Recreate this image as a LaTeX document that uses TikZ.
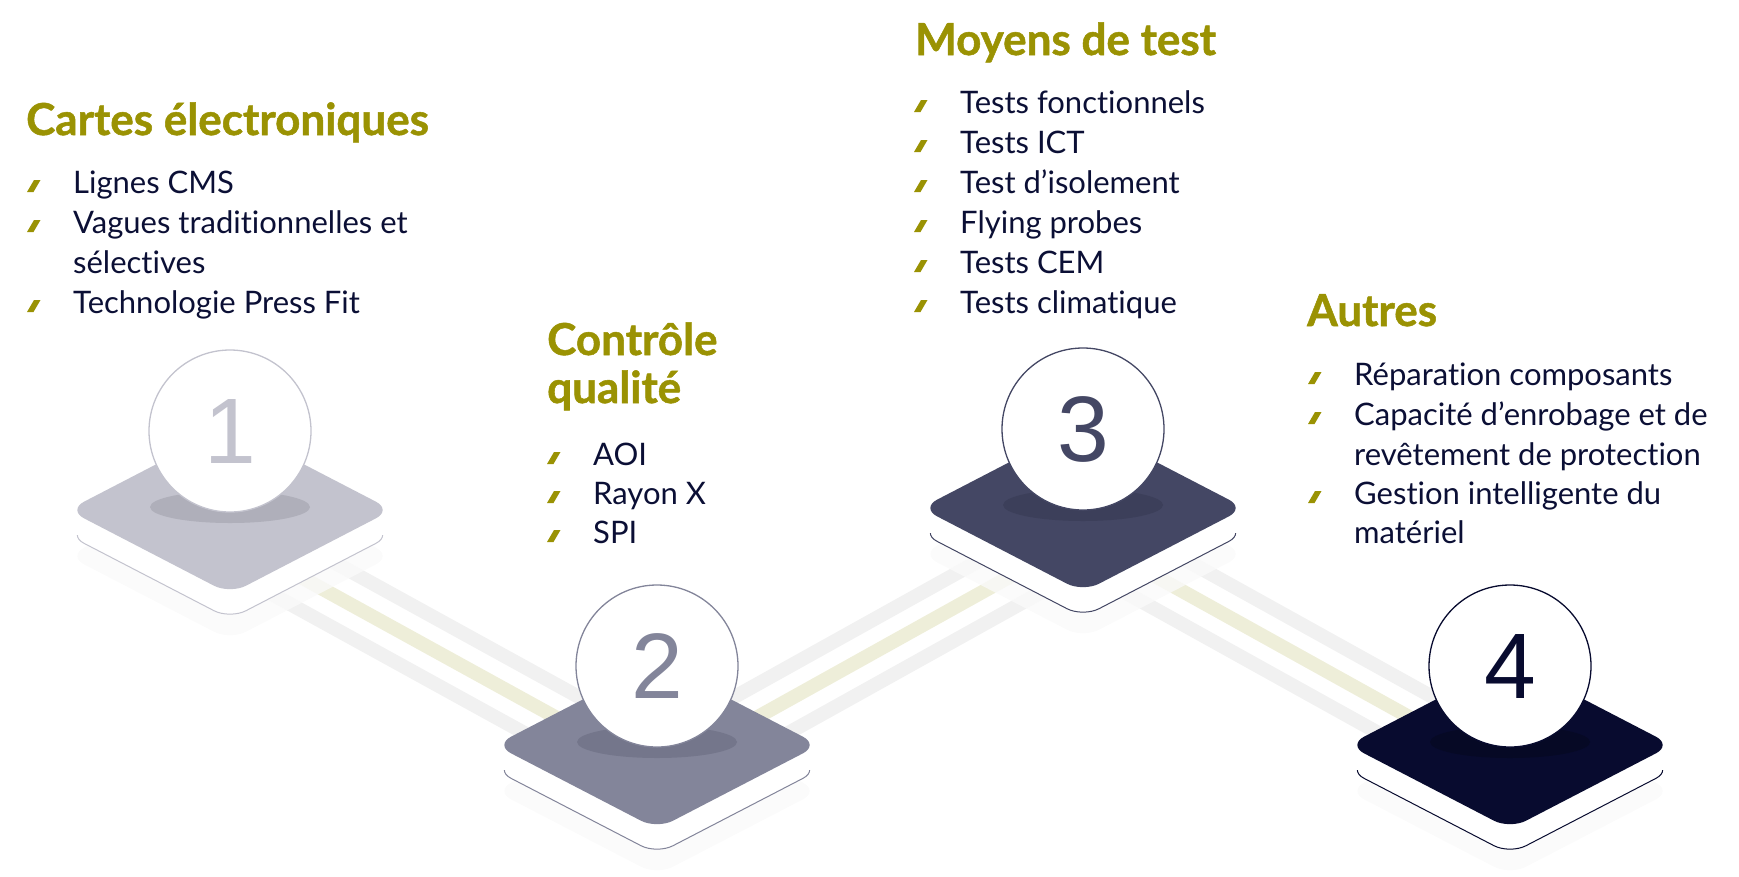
\documentclass[tikz,border=0pt]{standalone}
\usepackage{fontspec}
\setmainfont{Lato}[Ligatures={NoCommon,NoRequired}]
\newfontfamily\titrefont{Lato}[Ligatures={NoCommon,NoRequired},BoldFeatures={FakeBold=1.2}]
\newfontfamily\chiffre{Liberation Sans}
\usepackage{tikz}
\usetikzlibrary{calc}
\definecolor{moutarde}{HTML}{9A9203}
\definecolor{ink}{HTML}{0B0F35}
\definecolor{railgris}{HTML}{F1F1F1}
\definecolor{railolive}{HTML}{EEEED9}
\definecolor{pA}{HTML}{C3C3CE}
\definecolor{pAs}{HTML}{AFAFBA}
\definecolor{pB}{HTML}{83859A}
\definecolor{pBs}{HTML}{74768B}
\definecolor{pC}{HTML}{444764}
\definecolor{pCs}{HTML}{3C3F5A}
\definecolor{pD}{HTML}{080B2F}
\definecolor{pDs}{HTML}{060925}

\newcommand{\puce}[2]{\fill[moutarde] (#1-46,#2-1) -- ++(6.5,0) -- ++(7,-12) -- ++(-6.5,0) -- cycle;}

\tikzset{
  titre/.style={anchor=base west,inner sep=0pt,text=moutarde,font=\titrefont\fontsize{44}{50}\selectfont\bfseries},
  ligne/.style={anchor=base west,inner sep=0pt,text=ink,font=\fontsize{31}{37}\selectfont},
  rail/.style={line width=14pt},
  disc/.style={circle,fill=white,line width=1.3pt,minimum size=162pt,inner sep=0pt,font=\chiffre\fontsize{93}{93}\selectfont}
}

\begin{document}
\begin{tikzpicture}[x=1pt,y=-1pt]
  \useasboundingbox (0,0) rectangle (1739,876);

  % rails between the steps
  \foreach \i/\cx/\cy in {1/230/510,2/657/745,3/1083/508,4/1510/745}
    \coordinate (b\i) at (\cx,\cy+28);
  \foreach \a/\b in {1/2,2/3,3/4} {
    \draw[rail,railgris] ([yshift=33pt]b\a) -- ([yshift=33pt]b\b);
    \draw[rail,railolive] (b\a) -- (b\b);
    \draw[rail,railgris] ([yshift=-33pt]b\a) -- ([yshift=-33pt]b\b);
  }

  % platforms
  \foreach \i/\cx/\cy/\col/\ombre in {1/230/510/pA/pAs,2/657/745/pB/pBs,3/1083/508/pC/pCs,4/1510/745/pD/pDs} {
    \fill[black!2,opacity=.8,rounded corners=18pt] (\cx-162,\cy+46) -- (\cx,\cy-38) -- (\cx+162,\cy+46) -- (\cx,\cy+130) -- cycle;
    \filldraw[fill=white,draw=\col,line width=1pt,rounded corners=18pt] (\cx-162,\cy+25) -- (\cx,\cy-59) -- (\cx+162,\cy+25) -- (\cx,\cy+109) -- cycle;
    \fill[white] (\cx-162,\cy) rectangle (\cx+162,\cy+25);
    \fill[\col,rounded corners=18pt] (\cx-162,\cy) -- (\cx,\cy-84) -- (\cx+162,\cy) -- (\cx,\cy+84) -- cycle;
    \fill[\ombre] (\cx,\cy-3) ellipse [x radius=80,y radius=16];
    \node[disc,draw=\col,text=\col] (n\i) at (\cx,\cy-79) {\i};
  }

  % texts
  \node[titre] (t1) at (26,135) {Cartes électroniques};
  \foreach \y/\t/\b [count=\k] in {193/Lignes CMS/1,233/Vagues traditionnelles et/1,273/sélectives/0,313/Technologie Press Fit/1} {
    \node[ligne] (l1-\k) at (73,\y) {\t};
    \ifnum\b=1 \puce{73}{\y}\fi
  }

  \node[titre] (t2) at (547,355) {Contrôle};
  \node[titre] (t2b) at (547,403) {qualité};
  \foreach \y/\t [count=\k] in {465/AOI,504/Rayon X,543/SPI} {
    \node[ligne] (l2-\k) at (593,\y) {\t};
    \puce{593}{\y}
  }

  \node[titre] (t3) at (915,55) {Moyens de test};
  \foreach \y/\t [count=\k] in {113/Tests fonctionnels,153/Tests ICT,193/Test d’isolement,233/Flying probes,273/Tests CEM,313/Tests climatique} {
    \node[ligne] (l3-\k) at (960,\y) {\t};
    \puce{960}{\y}
  }

  \node[titre] (t4) at (1307,326) {Autres};
  \foreach \y/\t/\b [count=\k] in {385/Réparation composants/1,425/Capacité d’enrobage et de/1,465/revêtement de protection/0,504/Gestion intelligente du/1,543/matériel/0} {
    \node[ligne] (l4-\k) at (1354,\y) {\t};
    \ifnum\b=1 \puce{1354}{\y}\fi
  }
\end{tikzpicture}
\end{document}
